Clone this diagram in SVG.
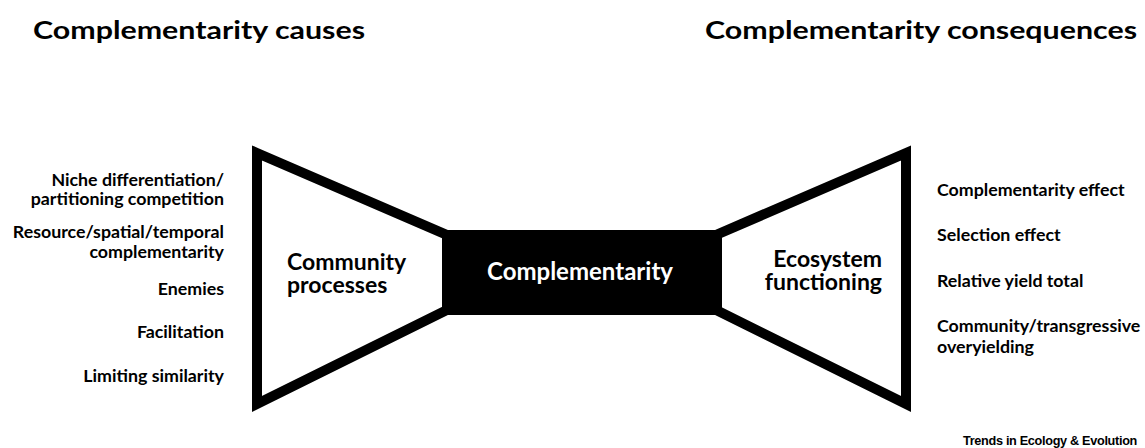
<svg xmlns="http://www.w3.org/2000/svg" width="1145" height="448" viewBox="0 0 1145 448">
<style>
.t{font-family:Lato,"Open Sans","Liberation Sans",sans-serif;font-weight:bold;fill:#000}
.title{font-size:25px}
.lab{font-size:17.8px}
.big{font-size:23px}
.l{text-anchor:end}
.trap{fill:#fff;stroke:#000;stroke-width:10;stroke-linejoin:miter}
</style>
<rect width="1145" height="448" fill="#fff"/>
<text class="t title" x="33" y="39" textLength="332" lengthAdjust="spacingAndGlyphs">Complementarity causes</text>
<text class="t title" x="705" y="39" textLength="432" lengthAdjust="spacingAndGlyphs">Complementarity consequences</text>
<g id="connectors"></g>
<g id="community-processes">
<polygon class="trap" points="257,153 447,235 447,310 257,404"/>
<text class="t big" x="287" y="270">Community</text>
<text class="t big" x="287" y="293">processes</text>
</g>
<g id="ecosystem-functioning">
<polygon class="trap" points="906,153 716,235 716,310 906,404"/>
<text class="t big l" x="882" y="267">Ecosystem</text>
<text class="t big l" x="882" y="290">functioning</text>
</g>
<g id="complementarity">
<rect x="442" y="230" width="280" height="85" fill="#000"/>
<text class="t" x="580" y="280" text-anchor="middle" style="fill:#fff;font-size:24px">Complementarity</text>
</g>
<g id="causes">
<text class="t lab l" x="224" y="186">Niche differentiation/</text>
<text class="t lab l" x="224" y="205">partitioning competition</text>
<text class="t lab l" x="224" y="238">Resource/spatial/temporal</text>
<text class="t lab l" x="224" y="258">complementarity</text>
<text class="t lab l" x="224" y="295">Enemies</text>
<text class="t lab l" x="224" y="338">Facilitation</text>
<text class="t lab l" x="224" y="382">Limiting similarity</text>
</g>
<g id="consequences">
<text class="t lab" x="937" y="196">Complementarity effect</text>
<text class="t lab" x="937" y="241">Selection effect</text>
<text class="t lab" x="937" y="287">Relative yield total</text>
<text class="t lab" x="937" y="332">Community/transgressive</text>
<text class="t lab" x="937" y="353">overyielding</text>
</g>
<text x="963" y="445" textLength="174" lengthAdjust="spacingAndGlyphs" style="font-family:'Liberation Sans',Arial,sans-serif;font-weight:bold;font-size:12px;letter-spacing:-0.3px" fill="#000">Trends in Ecology &amp; Evolution</text>
</svg>
